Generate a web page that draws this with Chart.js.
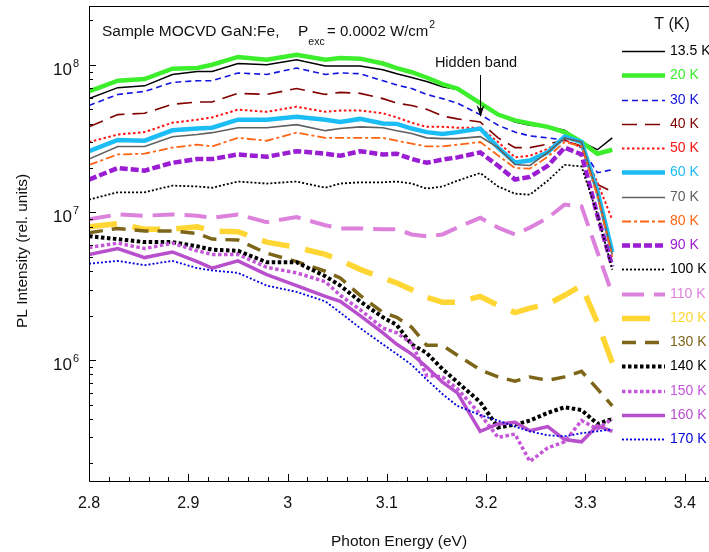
<!DOCTYPE html>
<html>
<head>
<meta charset="utf-8">
<script src="https://cdn.jsdelivr.net/npm/chart.js@4.4.1/dist/chart.umd.min.js"></script>
<style>
  html, body { margin: 0; padding: 0; background: #fff; }
  #wrap { width: 709px; height: 552px; }
</style>
</head>
<body>
<div id="wrap"><canvas id="plChart" width="709" height="552"></canvas></div>
<script>
// PL spectra of MOCVD GaN:Fe at low excitation, one curve per temperature

const energy = [2.800, 2.829, 2.856, 2.884, 2.909, 2.924, 2.950, 2.979, 3.009, 3.038, 3.053, 3.073, 3.096, 3.110,
                3.125, 3.140, 3.156, 3.171, 3.194, 3.212, 3.229, 3.244, 3.262, 3.279, 3.296, 3.312, 3.327];

const pl_13_5K = [5.9e7, 7.0e7, 7.2e7, 8.6e7, 9.0e7, 9.0e7, 1.02e8, 1.0e8, 1.08e8, 9.8e7, 9.8e7, 9.8e7, 9.25e7, 8.7e7,
                  8.2e7, 7.7e7, 7.1e7, 6.8e7, 5.5e7, 4.6e7, 4.1e7, 3.9e7, 3.8e7, 3.6e7, 3.0e7, 2.66e7, 3.2e7];
const pl_20K = [6.6e7, 7.8e7, 8.0e7, 9.4e7, 9.5e7, 1.0e8, 1.13e8, 1.08e8, 1.17e8, 1.08e8, 1.11e8, 1.10e8, 1.02e8, 9.5e7,
                8.9e7, 8.2e7, 7.4e7, 6.9e7, 5.5e7, 4.6e7, 4.2e7, 4.0e7, 3.8e7, 3.5e7, 3.0e7, 2.5e7, 2.66e7];
const pl_30K = [5.3e7, 6.3e7, 6.6e7, 7.6e7, 7.8e7, 7.8e7, 8.8e7, 8.6e7, 9.5e7, 8.6e7, 8.8e7, 8.7e7, 7.8e7, 7.3e7,
                6.9e7, 6.3e7, 5.9e7, 5.5e7, 4.6e7, 3.9e7, 3.5e7, 3.3e7, 3.2e7, 3.1e7, 2.75e7, 1.86e7, 1.95e7];
const pl_40K = [3.8e7, 4.6e7, 4.7e7, 5.4e7, 5.6e7, 5.6e7, 6.4e7, 6.3e7, 6.9e7, 6.3e7, 6.5e7, 6.4e7, 5.9e7, 5.5e7,
                5.3e7, 5.0e7, 4.5e7, 4.3e7, 4.1e7, 3.2e7, 2.75e7, 2.75e7, 2.9e7, 3.1e7, 2.8e7, 1.55e7, 1.38e7];
const pl_50K = [3.0e7, 3.37e7, 3.5e7, 4.05e7, 4.25e7, 4.4e7, 4.97e7, 4.8e7, 5.2e7, 4.8e7, 4.9e7, 4.9e7, 4.7e7, 4.4e7,
                4.05e7, 3.8e7, 3.8e7, 3.75e7, 3.75e7, 3.0e7, 2.36e7, 2.42e7, 2.7e7, 3.1e7, 2.75e7, 1.6e7, 8.9e6];
const pl_60K = [2.6e7, 3.1e7, 3.06e7, 3.6e7, 3.7e7, 3.75e7, 4.25e7, 4.25e7, 4.45e7, 4.25e7, 4.1e7, 4.3e7, 4.0e7, 3.98e7,
                3.7e7, 3.5e7, 3.4e7, 3.5e7, 3.7e7, 2.75e7, 2.18e7, 2.25e7, 2.55e7, 3.27e7, 3.0e7, 1.4e7, 5.4e6];
const pl_70K = [2.3e7, 2.8e7, 2.8e7, 3.26e7, 3.37e7, 3.47e7, 3.75e7, 3.75e7, 3.93e7, 3.58e7, 3.7e7, 3.8e7, 3.75e7, 3.58e7,
                3.43e7, 3.2e7, 3.16e7, 3.16e7, 3.26e7, 2.75e7, 2.11e7, 2.08e7, 2.55e7, 3.2e7, 3.0e7, 1.35e7, 5.2e6];
const pl_80K = [2.1e7, 2.47e7, 2.5e7, 2.75e7, 2.88e7, 2.8e7, 3.2e7, 3.06e7, 3.47e7, 3.2e7, 3.2e7, 3.2e7, 3.2e7, 3.06e7,
                2.92e7, 2.8e7, 2.8e7, 2.88e7, 3.0e7, 2.43e7, 2.0e7, 1.98e7, 2.38e7, 3.0e7, 2.8e7, 1.3e7, 5.0e6];
const pl_90K = [1.67e7, 2.0e7, 1.92e7, 2.17e7, 2.3e7, 2.3e7, 2.47e7, 2.38e7, 2.6e7, 2.5e7, 2.42e7, 2.6e7, 2.47e7, 2.5e7,
                2.3e7, 2.17e7, 2.28e7, 2.36e7, 2.55e7, 2.07e7, 1.67e7, 1.74e7, 2.07e7, 2.75e7, 2.47e7, 9.6e6, 4.3e6];
const pl_100K = [1.22e7, 1.37e7, 1.37e7, 1.52e7, 1.5e7, 1.47e7, 1.62e7, 1.57e7, 1.62e7, 1.47e7, 1.57e7, 1.6e7, 1.6e7, 1.62e7,
                 1.57e7, 1.45e7, 1.5e7, 1.64e7, 1.85e7, 1.5e7, 1.34e7, 1.32e7, 1.64e7, 2.1e7, 2.05e7, 9.7e6, 4.1e6];
const pl_110K = [9.0e6, 9.7e6, 9.5e6, 9.7e6, 9.5e6, 9.2e6, 9.7e6, 8.6e6, 9.3e6, 8.2e6, 7.8e6, 7.8e6, 7.7e6, 7.7e6,
                 7.1e6, 6.9e6, 7.1e6, 7.9e6, 9.2e6, 7.9e6, 7.1e6, 7.9e6, 9.2e6, 1.13e7, 1.1e7, 5.4e6, 2.8e6];
const pl_120K = [8.0e6, 8.4e6, 7.7e6, 7.7e6, 8.0e6, 7.5e6, 7.4e6, 6.3e6, 5.8e6, 5.2e6, 4.75e6, 4.12e6, 3.6e6, 3.33e6,
                 3.0e6, 2.66e6, 2.47e6, 2.47e6, 2.7e6, 2.35e6, 2.1e6, 2.25e6, 2.39e6, 2.75e6, 3.2e6, 1.8e6, 9.6e5];
const pl_130K = [7.3e6, 7.8e6, 7.5e6, 7.5e6, 7.2e6, 6.6e6, 6.5e6, 5.3e6, 4.65e6, 4.0e6, 3.6e6, 2.75e6, 2.1e6, 1.95e6,
                 1.67e6, 1.26e6, 1.26e6, 1.08e6, 8.6e5, 7.7e5, 7.2e5, 7.7e5, 7.3e5, 7.7e5, 8.4e5, 6.4e5, 4.9e5];
const pl_140K = [6.9e6, 6.6e6, 6.3e6, 6.3e6, 5.9e6, 5.6e6, 5.5e6, 4.6e6, 4.6e6, 3.7e6, 3.2e6, 2.5e6, 1.95e6, 1.73e6,
                 1.28e6, 1.12e6, 8.7e5, 7.1e5, 5.2e5, 3.5e5, 3.66e5, 3.9e5, 4.4e5, 4.8e5, 4.6e5, 3.7e5, 4.0e5];
const pl_150K = [5.8e6, 6.2e6, 5.7e6, 6.2e6, 5.5e6, 5.2e6, 5.2e6, 4.25e6, 3.9e6, 3.4e6, 2.75e6, 2.2e6, 1.65e6, 1.53e6,
                 1.3e6, 7.9e5, 7.7e5, 6.4e5, 4.3e5, 3.0e5, 3.16e5, 2.06e5, 2.55e5, 2.8e5, 3.9e5, 3.42e5, 4.0e5];
const pl_160K = [5.2e6, 5.7e6, 4.95e6, 5.4e6, 4.65e6, 4.2e6, 4.7e6, 3.8e6, 3.2e6, 2.7e6, 2.5e6, 2.0e6, 1.53e6, 1.28e6,
                 1.1e6, 9.0e5, 7.1e5, 6.0e5, 3.3e5, 3.7e5, 3.8e5, 3.33e5, 3.55e5, 2.9e5, 2.8e5, 3.6e5, 3.3e5];
const pl_170K = [4.5e6, 4.7e6, 4.4e6, 4.7e6, 4.2e6, 4.05e6, 3.9e6, 3.2e6, 2.9e6, 2.5e6, 2.1e6, 1.65e6, 1.28e6, 1.1e6,
                 9.3e5, 7.4e5, 5.9e5, 4.9e5, 4.25e5, 3.9e5, 3.55e5, 3.3e5, 3.1e5, 3.05e5, 3.2e5, 3.3e5, 3.4e5];

const xTicks = [2.8, 2.9, 3.0, 3.1, 3.2, 3.3, 3.4];
const yDecades = [6, 7, 8];

const FONT = '"Liberation Sans", Arial, sans-serif';

// line style per temperature
const SERIES = [
  { label: '13.5 K', data: pl_13_5K, color: '#000000', width: 1.5, dash: [] },
  { label: '20 K',   data: pl_20K,   color: '#3dee2c', width: 4.5, dash: [] },
  { label: '30 K',   data: pl_30K,   color: '#1414e0', width: 1.6, dash: [6, 4] },
  { label: '40 K',   data: pl_40K,   color: '#800000', width: 1.6, dash: [15, 8] },
  { label: '50 K',   data: pl_50K,   color: '#ff1414', width: 2,   dash: [2.5, 2.5] },
  { label: '60 K',   data: pl_60K,   color: '#1cbdf5', width: 4.5, dash: [] },
  { label: '70 K',   data: pl_70K,   color: '#606060', width: 1.6, dash: [] },
  { label: '80 K',   data: pl_80K,   color: '#ff6414', width: 1.8, dash: [9, 3, 3, 3] },
  { label: '90 K',   data: pl_90K,   color: '#9b1dd3', width: 4.5, dash: [8, 3] },
  { label: '100 K',  data: pl_100K,  color: '#000000', width: 1.8, dash: [2, 2] },
  { label: '110 K',  data: pl_110K,  color: '#dc82dc', width: 4,   dash: [22, 10] },
  { label: '120 K',  data: pl_120K,  color: '#ffd633', width: 5.5, dash: [28, 16] },
  { label: '130 K',  data: pl_130K,  color: '#7d6519', width: 3.5, dash: [14, 9] },
  { label: '140 K',  data: pl_140K,  color: '#000000', width: 4,   dash: [3.5, 2.5] },
  { label: '150 K',  data: pl_150K,  color: '#c456d8', width: 3.5, dash: [3.5, 2.5] },
  { label: '160 K',  data: pl_160K,  color: '#b84fcc', width: 3.5, dash: [] },
  { label: '170 K',  data: pl_170K,  color: '#0000dd', width: 1.8, dash: [2, 2] },
];

// axes frame, inward ticks, decade labels, legend and annotations
const decorPlugin = {
  id: 'decor',
  afterDraw(chart) {
    const { ctx, chartArea: a, scales: { x, y } } = chart;
    ctx.save();
    ctx.strokeStyle = '#000';
    ctx.lineWidth = 1;
    ctx.setLineDash([]);

    ctx.beginPath();
    ctx.moveTo(a.left + 0.5, a.top + 0.5);
    ctx.lineTo(a.left + 0.5, a.bottom + 0.5);
    ctx.lineTo(a.right, a.bottom + 0.5);
    ctx.moveTo(a.left, a.top + 0.5);
    ctx.lineTo(a.right, a.top + 0.5);

    for (let k = 0; k <= 40; k++) {
      const v = 2.8 + k * 0.02;
      if (v > x.max) break;
      const px = Math.round(x.getPixelForValue(v)) + 0.5;
      ctx.moveTo(px, a.bottom);
      ctx.lineTo(px, a.bottom - (k % 5 === 0 ? 7 : 4));
    }
    for (let e = 5; e <= 8; e++) {
      for (let m = 1; m <= 9; m++) {
        const v = m * Math.pow(10, e);
        if (v < y.min || v > y.max) continue;
        const py = Math.round(y.getPixelForValue(v)) + 0.5;
        ctx.moveTo(a.left, py);
        ctx.lineTo(a.left + (m === 1 ? 7 : 4), py);
      }
    }
    ctx.stroke();

    // y labels as 10^n
    ctx.fillStyle = '#111';
    ctx.textBaseline = 'alphabetic';
    yDecades.forEach(n => {
      const py = y.getPixelForValue(Math.pow(10, n));
      ctx.font = `17px ${FONT}`;
      ctx.textAlign = 'right';
      ctx.fillText('10', 72, py + 10);
      ctx.font = `11px ${FONT}`;
      ctx.textAlign = 'left';
      ctx.fillText(String(n), 73, py + 2);
    });

    // axis titles
    ctx.font = `15.5px ${FONT}`;
    ctx.textAlign = 'center';
    ctx.textBaseline = 'middle';
    ctx.fillText('Photon Energy (eV)', (a.left + a.right) / 2, 542);
    ctx.save();
    ctx.translate(23, 251);
    ctx.rotate(-Math.PI / 2);
    ctx.fillText('PL Intensity (rel. units)', 0, 0);
    ctx.restore();

    // sample / excitation note
    ctx.textAlign = 'left';
    ctx.textBaseline = 'alphabetic';
    ctx.font = `15.5px ${FONT}`;
    ctx.fillText('Sample MOCVD GaN:Fe,', 102, 36);
    ctx.fillText('P', 298, 36);
    const pW = ctx.measureText('P').width;
    ctx.font = `10.5px ${FONT}`;
    ctx.fillText('exc', 298 + pW, 45);
    ctx.font = `15px ${FONT}`;
    const eqText = '= 0.0002 W/cm';
    ctx.fillText(eqText, 327, 36);
    const eqW = ctx.measureText(eqText).width;
    ctx.font = `10.5px ${FONT}`;
    ctx.fillText('2', 327 + eqW + 1, 28);

    // hidden band marker
    ctx.font = `14.5px ${FONT}`;
    ctx.textAlign = 'center';
    ctx.textBaseline = 'middle';
    ctx.fillText('Hidden band', 476, 63);
    ctx.beginPath();
    ctx.moveTo(480.5, 75);
    ctx.lineTo(480.5, 110);
    ctx.stroke();
    ctx.beginPath();
    ctx.moveTo(476.5, 105);
    ctx.lineTo(480.5, 117);
    ctx.lineTo(484.5, 105);
    ctx.lineTo(480.5, 109);
    ctx.closePath();
    ctx.fillStyle = '#000';
    ctx.fill();

    // legend
    ctx.fillStyle = '#111';
    ctx.font = `16px ${FONT}`;
    ctx.fillText('T (K)', 672, 25);
    chart.data.datasets.forEach((ds, i) => {
      const ly = Math.round(51 + 24.25 * i) + 0.5;
      ctx.strokeStyle = ds.borderColor;
      ctx.lineWidth = ds.borderWidth;
      ctx.setLineDash(ds.borderDash);
      ctx.beginPath();
      ctx.moveTo(622, ly);
      ctx.lineTo(665, ly);
      ctx.stroke();
      ctx.setLineDash([]);
      ctx.fillStyle = ds.borderColor;
      ctx.font = `14px ${FONT}`;
      ctx.textAlign = 'left';
      ctx.fillText(ds.label, 670, ly);
    });
    ctx.restore();
  }
};

new Chart(document.getElementById('plChart'), {
  type: 'line',
  data: {
    datasets: SERIES.map((s, i) => ({
      label: s.label,
      data: energy.map((e, k) => ({ x: e, y: s.data[k] })),
      borderColor: s.color,
      borderWidth: s.width,
      borderDash: s.dash,
      pointRadius: 0,
      tension: 0,
      fill: false,
      order: -i,
    })),
  },
  options: {
    responsive: false,
    devicePixelRatio: 1,
    animation: false,
    layout: { padding: { top: 6, right: 0, left: 0, bottom: 0 } },
    plugins: { legend: { display: false }, tooltip: { enabled: false } },
    scales: {
      x: {
        type: 'linear',
        min: 2.8,
        max: 3.4244,
        grid: { display: false, drawTicks: false },
        border: { display: false },
        afterBuildTicks: s => { s.ticks = xTicks.map(v => ({ value: v })); },
        afterFit: s => { s.height = 71; },
        ticks: {
          padding: 13,
          color: '#111',
          font: { family: FONT, size: 16 },
          maxRotation: 0,
          callback: v => String(Number(v.toFixed(1))),
        },
      },
      y: {
        type: 'logarithmic',
        min: 1.52e5,
        max: 2.5e8,
        grid: { display: false, drawTicks: false },
        border: { display: false },
        ticks: { display: false },
        afterFit: s => { s.width = 89; },
      },
    },
  },
  plugins: [decorPlugin],
});
</script>
</body>
</html>
